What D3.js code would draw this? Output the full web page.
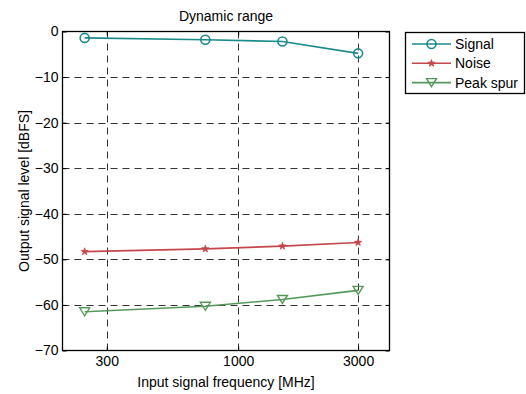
<!DOCTYPE html>
<html>
<head>
<meta charset="utf-8">
<script src="https://cdn.jsdelivr.net/npm/d3@7"></script>
<style>
  body { margin: 0; background: #fff; }
  text { font-family: "Liberation Sans", Arial, sans-serif; font-size: 14px; fill: #000; }
  .grid line { stroke: #333; stroke-dasharray: 7,5; stroke-width: 1; }
</style>
</head>
<body>
<div id="chart"></div>
<script>
// frequencies in MHz and levels in dBFS
var freqs = [245, 740, 1500, 3000];
var signal = [-1.4, -1.8, -2.2, -4.8];
var noise = [-48.3, -47.7, -47.1, -46.3];
var peakSpur = [-61.5, -60.3, -58.8, -56.8];
var x_ticks = [300, 1000, 3000];
var y_ticks = [0, -10, -20, -30, -40, -50, -60, -70];

var series = [
  { name: 'Signal', values: signal, color: '#1b8a8a', marker: 'circle' },
  { name: 'Noise', values: noise, color: '#c4474b', marker: 'star' },
  { name: 'Peak spur', values: peakSpur, color: '#55995a', marker: 'tri' }
];

var chart_width = 526;
var chart_height = 394;
var m = { left: 62.5, right: 389.5, top: 31.5, bottom: 350.5 };

var svg = d3.select('#chart')
  .append('svg')
  .attr('width', chart_width)
  .attr('height', chart_height);

var x_scale = d3.scaleLog()
  .domain([200, 4000])
  .range([m.left, m.right]);

var y_scale = d3.scaleLinear()
  .domain([-70, 0])
  .range([m.bottom, m.top]);

// grid
var grid = svg.append('g').attr('class', 'grid');
grid.selectAll('.gx')
  .data(x_ticks)
  .enter()
  .append('line')
  .attr('x1', function(d) { return Math.round(x_scale(d)) + 0.5; })
  .attr('x2', function(d) { return Math.round(x_scale(d)) + 0.5; })
  .attr('y1', m.top)
  .attr('y2', m.bottom);
grid.selectAll('.gy')
  .data(y_ticks.slice(1, -1))
  .enter()
  .append('line')
  .attr('x1', m.left)
  .attr('x2', m.right)
  .attr('y1', function(d) { return Math.round(y_scale(d)) + 0.5; })
  .attr('y2', function(d) { return Math.round(y_scale(d)) + 0.5; });

// axes, ticks inward on all four sides
function styleAxis(g) {
  g.select('.domain').remove();
  g.selectAll('line').attr('stroke', '#000');
  g.selectAll('text').style('font-size', '14px').attr('fill', '#000');
}

svg.append('g')
  .attr('transform', 'translate(0,' + m.bottom + ')')
  .call(d3.axisBottom(x_scale).tickValues(x_ticks).tickFormat(d3.format('d')).tickSizeInner(-4).tickPadding(6))
  .call(styleAxis);
svg.append('g')
  .attr('transform', 'translate(0,' + m.top + ')')
  .call(d3.axisTop(x_scale).tickValues(x_ticks).tickFormat('').tickSizeInner(-4))
  .call(styleAxis);
svg.append('g')
  .attr('transform', 'translate(' + m.left + ',0)')
  .call(d3.axisLeft(y_scale).tickValues(y_ticks).tickSizeInner(-4).tickPadding(4))
  .call(styleAxis);
svg.append('g')
  .attr('transform', 'translate(' + m.right + ',0)')
  .call(d3.axisRight(y_scale).tickValues(y_ticks).tickFormat('').tickSizeInner(-4))
  .call(styleAxis);

svg.append('rect')
  .attr('x', m.left).attr('y', m.top)
  .attr('width', m.right - m.left).attr('height', m.bottom - m.top)
  .attr('fill', 'none').attr('stroke', '#000').attr('stroke-width', 1.3);

// markers
function drawMarker(g, type, color) {
  if (type === 'circle') {
    g.append('circle').attr('r', 4.5).attr('fill', 'none').attr('stroke', color).attr('stroke-width', 1.6);
  } else if (type === 'star') {
    g.append('path').attr('d', d3.symbol(d3.symbolStar, 16)()).attr('fill', color).attr('stroke', color).attr('stroke-width', 0.8);
  } else {
    g.append('path').attr('d', 'M-5,-4L5,-4L0,4Z').attr('fill', 'none').attr('stroke', color).attr('stroke-width', 1.4);
  }
}

var line = d3.line()
  .x(function(d) { return x_scale(d[0]); })
  .y(function(d) { return y_scale(d[1]); });

series.forEach(function(s) {
  var pts = freqs.map(function(f, i) { return [f, s.values[i]]; });
  svg.append('path')
    .datum(pts)
    .attr('d', line)
    .attr('fill', 'none')
    .attr('stroke', s.color)
    .attr('stroke-width', 1.6);
  pts.forEach(function(p) {
    var g = svg.append('g').attr('transform', 'translate(' + x_scale(p[0]) + ',' + y_scale(p[1]) + ')');
    drawMarker(g, s.marker, s.color);
  });
});

// title and labels
svg.append('text')
  .attr('x', (m.left + m.right) / 2).attr('y', 21)
  .attr('text-anchor', 'middle')
  .text('Dynamic range');
svg.append('text')
  .attr('x', (m.left + m.right) / 2).attr('y', 387)
  .attr('text-anchor', 'middle')
  .text('Input signal frequency [MHz]');
svg.append('text')
  .attr('transform', 'translate(28.5,' + ((m.top + m.bottom) / 2) + ') rotate(-90)')
  .attr('text-anchor', 'middle')
  .text('Output signal level [dBFS]');

// legend
var legend = svg.append('g');
legend.append('rect')
  .attr('x', 405.5).attr('y', 32.5)
  .attr('width', 119).attr('height', 61)
  .attr('fill', '#fff').attr('stroke', '#000').attr('stroke-width', 1.3);
series.forEach(function(s, i) {
  var yy = 44 + i * 19.3;
  legend.append('line')
    .attr('x1', 412).attr('x2', 451)
    .attr('y1', yy).attr('y2', yy)
    .attr('stroke', s.color).attr('stroke-width', 1.6);
  var g = legend.append('g').attr('transform', 'translate(431.5,' + yy + ')');
  drawMarker(g, s.marker, s.color);
  legend.append('text')
    .attr('x', 455).attr('y', yy + 5)
    .text(s.name);
});
</script>
</body>
</html>
